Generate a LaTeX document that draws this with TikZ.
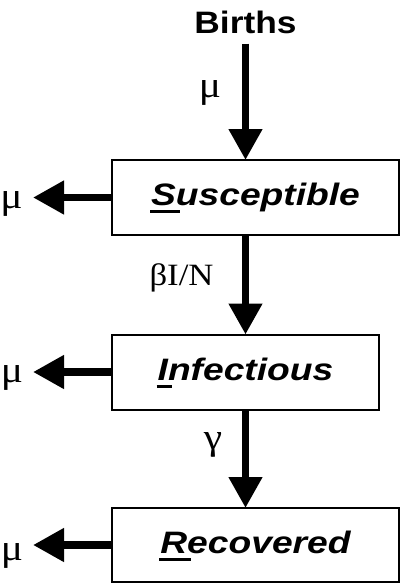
\documentclass[tikz,border=0pt]{standalone}
\usepackage{fontspec}
\usetikzlibrary{arrows.meta}
\newfontfamily\boxfont{Liberation Sans}[FakeStretch=1.2]
\newfontfamily\birthsfont{Liberation Sans}[FakeStretch=1.14]
\newfontfamily\greekfont{Liberation Serif}[FakeStretch=1.12]
\newcommand\ufirst[1]{\setbox0\hbox{#1}\rlap{\kern-1pt\rule[-7.5pt]{\dimexpr\wd0+5pt\relax}{3pt}}\box0}
\tikzset{
  box/.style={draw, line width=2pt, rectangle, outer sep=0pt, inner sep=0pt,
    text height=22pt, text depth=6pt, font=\boxfont\fontsize{31}{31}\selectfont\bfseries\itshape},
  lbl/.style={inner sep=0pt, outer sep=0pt, anchor=base, font=\greekfont\fontsize{31}{31}\selectfont},
  big/.style={font=\greekfont\fontsize{37}{37}\selectfont},
  arr/.style={line width=7.5pt, -{Triangle[width=32pt,length=31pt]}}
}
\begin{document}
\begin{tikzpicture}[x=1pt,y=-1pt]
\useasboundingbox (0,0) rectangle (404,584);
\node[inner sep=0pt, outer sep=0pt, anchor=base, font=\birthsfont\fontsize{31}{31}\selectfont\bfseries] (births) at (245.5,33.3) {Births};
\node[box, minimum width=287pt, minimum height=75pt] (S) at (255.5,197.5) {\ufirst{S}usceptible};
\node[box, minimum width=267pt, minimum height=75pt] (I) at (245.5,372) {\ufirst{I}nfectious};
\node[box, minimum width=287pt, minimum height=74pt] (R) at (255.5,545) {\ufirst{R}ecovered};
\coordinate (lx) at (33,0);
\node[lbl, big] (mu0) at (210,97) {μ};
\node[lbl] (beta) at (181.5,285) {βI/N};
\node[lbl, big] (gam) at (213,449) {γ};
\node[lbl, big] (muS) at (11.5,208) {μ};
\node[lbl, big] (muI) at (12,382) {μ};
\node[lbl, big] (muR) at (12,560) {μ};
\draw[arr] ([yshift=-10pt]births.south) -- (births |- S.north);
\draw[arr] (births |- S.south) -- (births |- I.north);
\draw[arr] (births |- I.south) -- (births |- R.north);
\draw[arr] (S.west) -- (S.west -| lx);
\draw[arr] (I.west) -- (I.west -| lx);
\draw[arr] (R.west) -- (R.west -| lx);
\end{tikzpicture}
\end{document}
